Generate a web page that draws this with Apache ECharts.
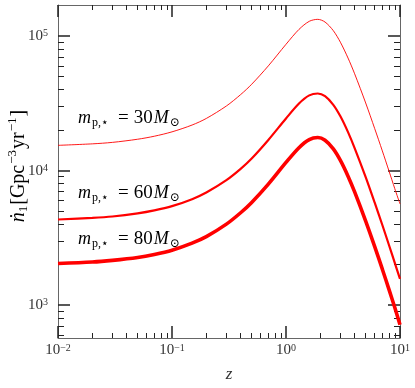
<!DOCTYPE html>
<html>
<head>
<meta charset="utf-8">
<script src="https://cdn.jsdelivr.net/npm/echarts@6/dist/echarts.min.js"></script>
<style>
  html, body { margin: 0; padding: 0; background: #fff; }
  #main { width: 415px; height: 388px; }
</style>
</head>
<body>
<div id="main"></div>
<script>
// redshift samples and merger-rate values
const redshift = [0.01, 0.02, 0.03, 0.05, 0.07, 0.1, 0.15, 0.2, 0.3, 0.4, 0.5, 0.7, 1, 1.3, 1.6, 1.9, 2.2, 2.6, 3, 3.5, 4, 5, 6, 7, 8, 9, 10]
const rate30 = [15400, 15800, 16200, 17100, 18000, 19400, 21800, 24400, 30200, 36700, 43800, 60000, 86800, 112000, 128600, 133000, 127000, 109600, 89900, 68600, 52400, 31800, 20500, 14000, 9950, 7340, 5650]
const rate60 = [4330, 4450, 4560, 4810, 5060, 5440, 6130, 6870, 8490, 10300, 12300, 16900, 24400, 31500, 36200, 37400, 35700, 30800, 25300, 19300, 14700, 8940, 5770, 3940, 2800, 2060, 1570]
const rate80 = [2040, 2090, 2150, 2260, 2380, 2560, 2890, 3230, 4000, 4860, 5800, 7940, 11500, 14800, 17000, 17600, 16800, 14500, 11900, 9090, 6940, 4210, 2720, 1850, 1310, 960, 715]
const masses = ['30', '60', '80']

const xMajor = [0.01, 0.1, 1, 10]
const yMajor = [1e3, 1e4, 1e5]
const xRange = [0.01, 10]
const yRange = [570, 170000]

// minor ticks at 2..9 times each decade, kept inside the range
function minorTicks(range) {
  const out = []
  for (let e = -3; e <= 6; e++) {
    for (let k = 2; k <= 9; k++) {
      const v = k * Math.pow(10, e)
      if (v > range[0] && v < range[1]) out.push(+v.toPrecision(3))
    }
  }
  return out
}

const serif = 'Liberation Serif, DejaVu Serif, serif'
const tickColor = '#222'
const lineColor = '#666'

const powRich = {
  b: { fontFamily: serif, fontSize: 15, color: '#333', lineHeight: 15, padding: [6, 0, 0, 0], verticalAlign: 'bottom' },
  s: { fontFamily: serif, fontSize: 10, color: '#333', lineHeight: 10, verticalAlign: 'top' }
}

function powLabel(v) {
  const e = Math.round(Math.log10(v))
  return '{b|10}{s|' + String(e).replace('-', '\u2212') + '}'
}

function makeAxis(dim, position, range, ticks, len, width, withLine, withLabel) {
  return {
    type: 'log',
    position,
    min: range[0],
    max: range[1],
    splitLine: { show: false },
    axisLine: { show: withLine, lineStyle: { color: lineColor, width: 1 } },
    axisTick: { show: true, inside: true, length: len, customValues: ticks, lineStyle: { color: tickColor, width } },
    axisLabel: withLabel ? {
      show: true,
      customValues: ticks,
      margin: dim === 'x' ? 5 : 10,
      formatter: powLabel,
      rich: powRich
    } : { show: false }
  }
}

const xAxes = [
  makeAxis('x', 'bottom', xRange, xMajor, 12, 1.5, true, true),
  makeAxis('x', 'bottom', xRange, minorTicks(xRange), 5, 1, false, false),
  makeAxis('x', 'top', xRange, xMajor, 12, 1.5, true, false),
  makeAxis('x', 'top', xRange, minorTicks(xRange), 5, 1, false, false)
]
xAxes[0].name = 'z'
xAxes[0].nameLocation = 'middle'
xAxes[0].nameGap = 28
xAxes[0].nameTextStyle = { fontFamily: serif, fontStyle: 'italic', fontSize: 17, color: '#333' }

const yAxes = [
  makeAxis('y', 'left', yRange, yMajor, 12, 1.5, true, true),
  makeAxis('y', 'left', yRange, minorTicks(yRange), 6, 1, false, false),
  makeAxis('y', 'right', yRange, yMajor, 12, 1.5, true, false),
  makeAxis('y', 'right', yRange, minorTicks(yRange), 6, 1, false, false)
]

// y-axis title, drawn as rotated rich text
const yTitle = '{i|\u1E45}{sub|1}{n|[Gpc}{sup|\u22123}{n|yr}{sup|\u22121}{n|]}'
const yTitleRich = {
  i: { fontFamily: serif, fontStyle: 'italic', fontSize: 20, color: '#333', lineHeight: 20, padding: [6, 0, 0, 0] },
  n: { fontFamily: serif, fontSize: 20, color: '#333', lineHeight: 20, padding: [6, 0, 0, 0] },
  sub: { fontFamily: serif, fontSize: 13, color: '#333', lineHeight: 13, padding: [16, 1, 0, 0] },
  sup: { fontFamily: serif, fontSize: 13, color: '#333', lineHeight: 13, verticalAlign: 'top', padding: [0, 1, 0, 1] }
}

function massText(m) {
  return '{i|m}{sub|p,\u22C6}{eq|=}{n|' + m + '}{i|M}{sub|\u2299}'
}
const massRich = {
  i: { fontFamily: serif, fontStyle: 'italic', fontSize: 18, color: '#222', lineHeight: 18, verticalAlign: 'top' },
  n: { fontFamily: serif, fontSize: 19, color: '#222', lineHeight: 18, verticalAlign: 'top', padding: [0, 1, 0, 0] },
  eq: { fontFamily: serif, fontSize: 19, color: '#222', lineHeight: 18, verticalAlign: 'top', padding: [0, 5, 0, 9] },
  sub: { fontFamily: serif, fontSize: 12, color: '#222', lineHeight: 12, padding: [10, 0, 0, 1] }
}
const labelTops = [107, 182, 228]

const chart = echarts.init(document.getElementById('main'), null, { renderer: 'canvas' })

chart.setOption({
  animation: false,
  backgroundColor: '#fff',
  grid: { left: 58, right: 15, top: 5, bottom: 50, containLabel: false, outerBoundsMode: 'none' },
  xAxis: xAxes,
  yAxis: yAxes,
  series: [
    { name: masses[0], type: 'line', data: redshift.map((z, i) => [z, rate30[i]]), showSymbol: false, smooth: 0.3, lineStyle: { color: '#ff0000', width: 0.9 } },
    { name: masses[1], type: 'line', data: redshift.map((z, i) => [z, rate60[i]]), showSymbol: false, smooth: 0.3, lineStyle: { color: '#ff0000', width: 2.2 } },
    { name: masses[2], type: 'line', data: redshift.map((z, i) => [z, rate80[i]]), showSymbol: false, smooth: 0.3, lineStyle: { color: '#ff0000', width: 3.6 } }
  ],
  graphic: masses.map((m, i) => ({
    type: 'text',
    left: 78,
    top: labelTops[i],
    style: { text: massText(m), rich: massRich }
  })).concat([{
    type: 'text',
    x: 16,
    y: 166,
    rotation: Math.PI / 2,
    style: { text: yTitle, rich: yTitleRich, align: 'center', verticalAlign: 'middle' }
  }])
})
</script>
</body>
</html>
